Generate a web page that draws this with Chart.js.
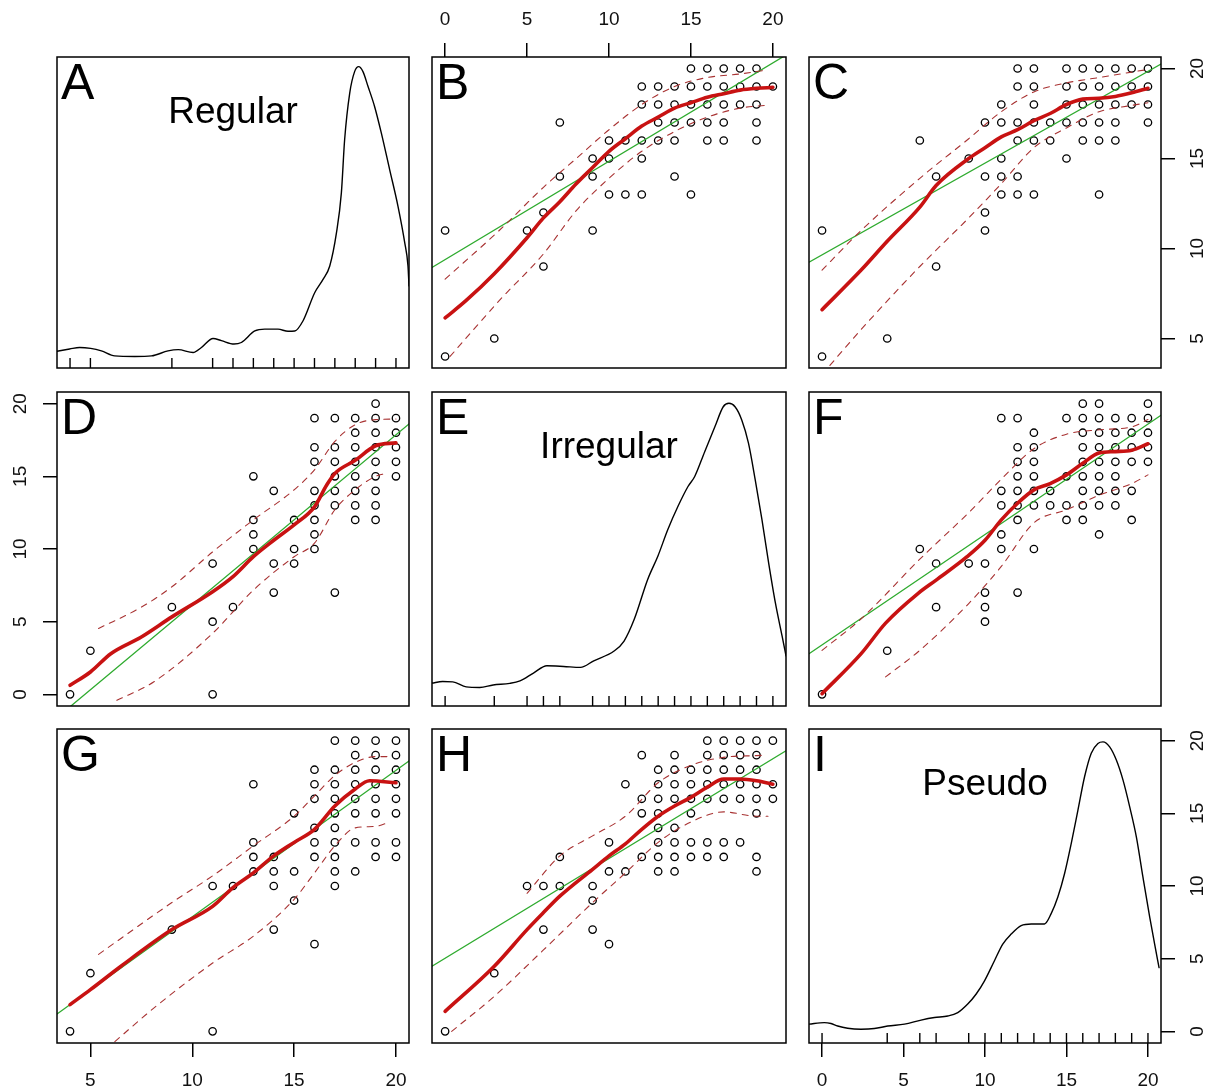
<!DOCTYPE html>
<html><head><meta charset="utf-8">
<script src="https://cdn.jsdelivr.net/npm/chart.js@4.4.0/dist/chart.umd.min.js"></script>
<style>
html,body{margin:0;padding:0;background:#fff;}
#wrap{position:relative;width:1215px;height:1091px;overflow:hidden;background:#fff;}
#wrap canvas{position:absolute;left:0;top:0;}
</style></head><body><div id="wrap"></div>
<script>
// ---------------- DATA ----------------
const varNames = ['Regular', 'Irregular', 'Pseudo'];
const varRange = [[3.36, 20.64], [-0.8, 20.8], [-0.8, 20.8]];
const varTicks = [[5, 10, 15, 20], [0, 5, 10, 15, 20], [0, 5, 10, 15, 20]];

// observations as [Regular, Irregular]
const regIrr = [
  [20,15],[20,16],[20,17],[20,18],[20,19],
  [19,12],[19,13],[19,14],[19,15],[19,16],[19,17],[19,18],[19,19],[19,20],
  [18,12],[18,13],[18,14],[18,15],[18,16],[18,17],[18,18],[18,19],
  [17,7],[17,13],[17,14],[17,15],[17,16],[17,17],[17,19],
  [16,10],[16,11],[16,12],[16,13],[16,14],[16,16],[16,17],[16,19],
  [15,9],[15,10],[15,12],
  [14,7],[14,9],[14,14],
  [13,10],[13,11],[13,12],[13,15],
  [12,6],[11,0],[11,5],[11,9],[9,6],[5,3],[4,0]
];
// observations as [Regular, Pseudo]
const regPse = [
  [20,12],[20,13],[20,15],[20,16],[20,17],[20,18],[20,19],[20,20],
  [19,12],[19,13],[19,15],[19,16],[19,17],[19,18],[19,19],[19,20],
  [18,11],[18,13],[18,15],[18,16],[18,17],[18,18],[18,19],[18,20],
  [17,10],[17,11],[17,12],[17,13],[17,14],[17,15],[17,16],[17,17],[17,18],[17,20],
  [16,6],[16,12],[16,13],[16,14],[16,16],[16,17],[16,18],
  [15,9],[15,11],[15,15],
  [14,7],[14,10],[14,11],[14,12],
  [13,11],[13,12],[13,13],[13,17],
  [12,10],[11,0],[11,10],[9,7],[5,4],[4,0]
];
// observations as [Irregular, Pseudo]
const irrPse = [
  [20,16],[20,17],[20,20],
  [19,11],[19,12],[19,15],[19,16],[19,17],[19,18],[19,19],[19,20],
  [18,13],[18,16],[18,17],[18,18],[18,19],[18,20],
  [17,12],[17,13],[17,16],[17,17],[17,18],[17,19],[17,20],
  [16,12],[16,13],[16,16],[16,17],[16,18],[16,19],[16,20],
  [15,12],[15,13],[15,15],[15,16],[15,17],[15,18],
  [14,11],[14,12],[14,13],[14,14],[14,16],[14,17],[14,18],[14,19],
  [13,11],[13,12],[13,13],[13,14],[13,15],[13,16],[13,17],[13,18],
  [12,12],[12,15],[12,16],[12,19],
  [11,11],[11,17],
  [10,6],[10,11],[10,13],
  [9,7],[9,9],[9,10],
  [7,10],[7,12],[6,7],[6,10],[5,10],[3,4],[0,0]
];

// rug values
const rugReg = [4,5,9,11,12,13,14,15,16,17,18,19,20];
const rugIrr = [0,3,5,6,7,9,10,11,12,13,14,15,16,17,18,19,20];
const rugPse = [0,4,6,7,9,10,11,12,13,14,15,16,17,18,19,20];

// density curves (relative density, %)
const densReg = [[3.36,5.4],[3.98,6.1],[4.47,6.6],[5.01,6.3],[5.54,5.5],[6.19,3.9],[7.18,3.7],[8.0,3.9],[8.81,5.5],[9.31,5.9],[10.04,5.0],[10.45,6.6],[11.02,9.5],[11.43,8.8],[12.05,7.7],[12.41,8.2],[13.07,11.9],[13.56,12.5],[14.21,12.5],[14.7,11.8],[15.03,11.9],[15.44,15.2],[16.01,24.2],[16.42,28.5],[16.75,32.8],[17.08,43.5],[17.32,56.3],[17.48,73.4],[17.73,88.4],[17.97,95.3],[18.17,96.9],[18.38,95.3],[18.63,90.5],[18.95,84.1],[19.28,75.6],[19.69,63.8],[20.1,52.0],[20.43,40.3],[20.59,32.8],[20.64,26.4]];
const densIrr = [[-0.8,7.3],[-0.15,7.8],[0.47,7.7],[1.29,6.1],[2.11,5.9],[2.93,6.7],[3.95,7.2],[4.57,8.0],[5.39,10.5],[6.21,12.8],[7.23,12.6],[8.26,12.3],[9.07,14.4],[10.31,17.5],[10.92,20.7],[11.54,27.6],[12.36,40.3],[12.98,47.7],[13.59,56.2],[14.21,63.6],[14.82,69.9],[15.23,73.1],[15.84,81.0],[16.46,88.9],[16.97,95.3],[17.32,96.4],[17.69,95.3],[18.1,91.1],[18.51,83.7],[18.92,72.1],[19.33,59.4],[19.74,45.6],[20.15,32.9],[20.56,22.3],[20.8,16.0]];
const densPse = [[-0.8,6.0],[0.14,6.5],[0.55,6.2],[0.96,5.4],[1.57,4.7],[2.39,4.4],[3.21,4.6],[4.03,5.4],[5.06,6.0],[6.08,7.3],[6.9,8.1],[7.72,8.6],[8.33,9.7],[8.94,12.4],[9.46,15.6],[9.97,19.8],[10.58,26.2],[11.09,31.5],[11.61,34.7],[12.22,37.4],[12.84,37.9],[13.65,37.9],[14.06,41.2],[14.47,46.5],[14.88,53.9],[15.29,63.5],[15.7,74.1],[16.11,84.8],[16.52,92.3],[16.93,95.4],[17.24,95.9],[17.65,94.3],[18.06,90.1],[18.47,83.7],[18.88,75.2],[19.29,65.6],[19.69,52.9],[20.11,40.0],[20.41,31.5],[20.68,24.0]];

// fitted lines per panel, [x, y]
const fitB = [[-0.8,8.95],[20.8,20.75]];
const smoothB = [[0,6.14],[1.27,7.1],[3,8.6],[5,10.6],[6,11.7],[7,12.6],[8,13.6],[9,14.5],[10,15.4],[11,16.1],[12,16.8],[13,17.3],[14,17.8],[15,18.1],[16,18.4],[17,18.6],[18,18.8],[19,18.9],[20,18.95]];
const upperB = [[0,8.3],[3.3,11.0],[6,13.4],[8,15.0],[10,16.6],[12,18.0],[14,19.0],[16,19.5],[18,19.7],[19.5,19.9]];
const lowerB = [[0.3,4.0],[3.3,7.1],[6,9.7],[8,12.1],[10,13.9],[12,15.4],[14,16.5],[16,17.3],[18,17.8],[19.5,17.95]];

const fitC = [[-0.8,9.24],[20.8,20.25]];
const smoothC = [[0,6.6],[2.4,8.8],[4,10.4],[6,12.3],[7,13.5],[9,15.0],[10,15.6],[11,16.2],[12,16.6],[13,17.1],[14,17.5],[15,18.0],[16,18.3],[17,18.35],[18,18.45],[19,18.65],[20,18.9]];
const upperC = [[0,8.8],[2.4,11.0],[6,13.9],[9,16.1],[11,17.6],[13,18.7],[15,19.2],[17,19.5],[19,19.8],[20,19.95]];
const lowerC = [[0,3.0],[2.4,5.5],[6,9.0],[9,11.7],[11,13.6],[13,15.6],[15,16.7],[17,17.6],[19,17.95],[20,18.1]];

const fitD = [[3.36,-1.6],[20.64,18.6]];
const smoothD = [[4,0.62],[5,1.54],[6,2.8],[7.5,3.95],[9,5.33],[11,7.06],[12,8.1],[13,9.47],[14,10.6],[15,11.66],[16,12.9],[16.6,14.4],[17,15.2],[18,16.1],[19,17.1],[20,17.3]];
const upperD = [[5.4,4.53],[7.5,6.0],[9,7.4],[11,9.8],[13,12.0],[15,14.07],[16,15.45],[17,17.4],[18,18.55],[19,18.9],[20,18.94]];
const lowerD = [[6.3,-0.41],[8.1,0.85],[11,4.2],[13,7.17],[15,9.47],[16,10.4],[17,12.7],[18,14.07],[19,15.0],[19.5,15.2]];

const fitF = [[-0.8,2.8],[20.8,19.2]];
const smoothF = [[0,0.05],[2.4,2.8],[3.9,4.9],[5.9,6.95],[7,7.86],[8.9,9.47],[10,10.6],[11,12.0],[12,13.15],[13,14.07],[14,14.5],[15,15.1],[16,15.9],[17,16.6],[18,16.7],[19,16.8],[20,17.24]];
const upperF = [[0,3.03],[2.4,5.2],[6,9.3],[9,12.5],[11,14.8],[13,16.9],[15,17.9],[17,18.2],[19,18.4],[20,18.9]];
const lowerF = [[3.9,1.2],[6,3.03],[9,6.25],[11,8.8],[13,11.8],[15,12.7],[17,13.7],[19,14.5],[20,15.1]];

const fitG = [[3.36,1.19],[20.64,18.6]];
const smoothG = [[4,1.84],[5,2.87],[6.5,4.48],[9,7.0],[11,8.6],[12,9.89],[13,10.9],[14,12.07],[15,13.0],[16,13.9],[17,15.5],[18,16.67],[18.7,17.24],[20,17.1]];
const upperG = [[5.4,5.3],[9,8.86],[11,10.7],[13,12.76],[15,14.8],[16,16.2],[17,17.6],[18,18.5],[19,18.9],[19.7,18.9]];
const lowerG = [[6.2,-0.7],[8.2,1.7],[11,4.7],[13,6.55],[15,9.08],[16,10.9],[17,12.76],[18,14.0],[19,14.1],[19.7,14.4]];

const fitH = [[-0.8,4.48],[20.8,19.3]];
const smoothH = [[0,1.38],[3,4.48],[5,7.0],[6,8.17],[7,9.3],[9,11.15],[10,12.07],[11,12.9],[12,13.9],[13,14.8],[14,15.5],[15,16.1],[16,16.8],[17,17.36],[18,17.36],[19,17.24],[20,17.0]];
const upperH = [[5,9.5],[7,12.07],[9,13.45],[11,14.8],[13,17.1],[15,18.3],[17,18.85],[19,18.97],[19.6,19.0]];
const lowerH = [[0.4,0.0],[3,2.41],[6,5.6],[9,8.86],[11,10.9],[13,13.0],[15,14.4],[17,15.1],[19,14.8],[19.7,14.8]];

// ---------------- LAYOUT / STYLE ----------------
const W = 1215, H = 1091;
const FONT = "'Liberation Sans', Arial, sans-serif";
const colBox = [[57, 409], [432, 786], [809, 1161]];
const rowBox = [[57, 368], [392, 706], [729, 1043]];
const RED = '#c81212', DASH = '#a83232', GREEN = '#2fab2f';

const swapXY = (arr) => arr.map(([a, b]) => ({x: b, y: a}));
const asXY = (arr) => arr.map(([a, b]) => ({x: a, y: b}));

const panels = [
  {letter: 'A', row: 0, col: 0, title: 'Regular', dens: densReg, rug: rugReg},
  {letter: 'B', row: 0, col: 1, pts: swapXY(regIrr), fit: fitB, smooth: smoothB, upper: upperB, lower: lowerB, xAxis: 'top'},
  {letter: 'C', row: 0, col: 2, pts: swapXY(regPse), fit: fitC, smooth: smoothC, upper: upperC, lower: lowerC, yAxis: 'right'},
  {letter: 'D', row: 1, col: 0, pts: asXY(regIrr), fit: fitD, smooth: smoothD, upper: upperD, lower: lowerD, yAxis: 'left'},
  {letter: 'E', row: 1, col: 1, title: 'Irregular', dens: densIrr, rug: rugIrr},
  {letter: 'F', row: 1, col: 2, pts: swapXY(irrPse), fit: fitF, smooth: smoothF, upper: upperF, lower: lowerF},
  {letter: 'G', row: 2, col: 0, pts: asXY(regPse), fit: fitG, smooth: smoothG, upper: upperG, lower: lowerG, xAxis: 'bottom'},
  {letter: 'H', row: 2, col: 1, pts: asXY(irrPse), fit: fitH, smooth: smoothH, upper: upperH, lower: lowerH},
  {letter: 'I', row: 2, col: 2, title: 'Pseudo', dens: densPse, rug: rugPse, xAxis: 'bottom', yAxis: 'right'}
];

const decoPlugin = {
  id: 'deco',
  afterDatasetsDraw(chart, args, opts) {
    const {ctx, chartArea: a} = chart;
    ctx.save();
    ctx.strokeStyle = '#000';
    ctx.lineWidth = 1.5;
    ctx.strokeRect(a.left, a.top, a.right - a.left, a.bottom - a.top);
    ctx.fillStyle = '#000';
    ctx.textBaseline = 'alphabetic';
    ctx.textAlign = 'left';
    ctx.font = '50px ' + FONT;
    ctx.fillText(opts.letter, a.left + 4, a.top + 42);
    if (opts.title) {
      ctx.font = '37px ' + FONT;
      ctx.textAlign = 'center';
      ctx.fillText(opts.title, (a.left + a.right) / 2, a.top + 66);
    }
    ctx.restore();
  }
};

function makeScale(axis, vi, pos) {
  const s = {type: 'linear', min: varRange[vi][0], max: varRange[vi][1], display: !!pos};
  if (!pos) return s;
  s.position = pos;
  s.afterBuildTicks = (sc) => { sc.ticks = varTicks[vi].map(v => ({value: v})); };
  s.afterFit = (sc) => {
    if (pos === 'top') sc.height = rowBox[0][0];
    else if (pos === 'bottom') sc.height = H - rowBox[2][1];
    else if (pos === 'left') sc.width = colBox[0][0];
    else sc.width = W - colBox[2][1];
  };
  s.grid = {display: true, drawOnChartArea: false, drawTicks: true, tickLength: 14,
            tickWidth: 1.5, tickColor: '#000', color: '#000', lineWidth: 1.5};
  s.border = {display: false};
  s.ticks = {color: '#111', font: {family: FONT, size: 19}, padding: 12, autoSkip: false,
             minRotation: axis === 'y' ? 90 : 0, maxRotation: axis === 'y' ? 90 : 0,
             crossAlign: axis === 'y' ? 'center' : 'near'};
  return s;
}

function lineDs(arr, color, width, dash, yID, smooth) {
  return {data: asXY(arr), showLine: true, borderColor: color, borderWidth: width,
          borderDash: dash, pointRadius: 0, fill: false, yAxisID: yID,
          cubicInterpolationMode: smooth ? 'monotone' : 'default', tension: 0,
          borderCapStyle: 'round', borderJoinStyle: 'round'};
}

const wrap = document.getElementById('wrap');
panels.forEach(p => {
  const canvas = document.createElement('canvas');
  canvas.width = W; canvas.height = H;
  canvas.style.width = W + 'px'; canvas.style.height = H + 'px';
  wrap.appendChild(canvas);
  const [cl, cr] = colBox[p.col];
  const [rt, rb] = rowBox[p.row];
  const scales = {x: makeScale('x', p.col, p.xAxis), y: makeScale('y', p.row, p.yAxis)};
  const datasets = [];
  if (p.dens) {
    scales.yd = {type: 'linear', display: false, min: 0, max: 100};
    scales.yr = {type: 'linear', display: false, min: 0, max: 1};
    datasets.push(lineDs(p.dens, '#000', 1.4, [], 'yd', true));
    datasets.push({data: p.rug.map(v => ({x: v, y: 0})), yAxisID: 'yr', showLine: false,
                   pointStyle: 'line', pointRotation: 90, pointRadius: 10,
                   pointBorderColor: '#000', pointBorderWidth: 1.4, pointBackgroundColor: '#000'});
  } else {
    datasets.push(lineDs(p.smooth, RED, 3.6, [], 'y', true));
    datasets.push(lineDs(p.upper, DASH, 1.1, [6, 6], 'y', true));
    datasets.push(lineDs(p.lower, DASH, 1.1, [6, 6], 'y', true));
    datasets.push(lineDs(p.fit, GREEN, 1.3, [], 'y', false));
    datasets.push({data: p.pts, yAxisID: 'y', showLine: false, pointStyle: 'circle',
                   pointRadius: 3.7, pointBorderWidth: 1.3, pointBorderColor: '#000',
                   pointBackgroundColor: 'rgba(0,0,0,0)'});
  }
  new Chart(canvas, {
    type: 'scatter',
    data: {datasets},
    options: {
      responsive: false, animation: false, devicePixelRatio: 1, events: [],
      layout: {autoPadding: false, padding: {
        left: p.yAxis === 'left' ? 0 : cl,
        right: p.yAxis === 'right' ? 0 : W - cr,
        top: p.xAxis === 'top' ? 0 : rt,
        bottom: p.xAxis === 'bottom' ? 0 : H - rb}},
      scales,
      plugins: {legend: {display: false}, tooltip: {enabled: false},
                deco: {letter: p.letter, title: p.title}}
    },
    plugins: [decoPlugin]
  });
});
</script></body></html>
